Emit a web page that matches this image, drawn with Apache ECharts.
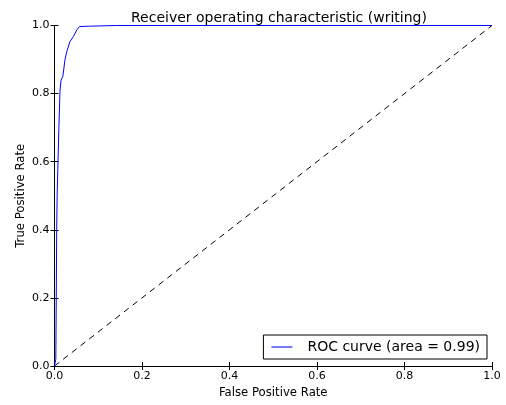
<!DOCTYPE html>
<html>
<head>
<meta charset="utf-8">
<script src="https://cdn.jsdelivr.net/npm/echarts@6/dist/echarts.min.js"></script>
<style>
  html, body { margin: 0; padding: 0; background: #fff; }
  #chart { width: 506px; height: 405px; }
</style>
</head>
<body>
<div id="chart"></div>
<script>
// ROC curve points (false positive rate, true positive rate)
const fpr = [0, 0.003, 0.004, 0.005, 0.006, 0.008, 0.010, 0.0126, 0.015, 0.019, 0.024, 0.028, 0.035, 0.043, 0.051, 0.057, 0.080, 0.142, 1.0];
const tpr = [0, 0.020, 0.200, 0.400, 0.500, 0.600, 0.700, 0.810, 0.840, 0.850, 0.900, 0.923, 0.952, 0.967, 0.987, 0.997, 0.998, 1.000, 1.0];
// chance diagonal
const chanceX = [0, 1];
const chanceY = [0, 1];
const tickLabels = ['0.0', '0.2', '0.4', '0.6', '0.8', '1.0'];
const rocName = 'ROC curve (area = 0.99)';

const FONT = 'DejaVu Sans';
const fmt = v => tickLabels[Math.round(v / 0.2)] || '';

const rocData = fpr.map((x, i) => [x, tpr[i]]);
const chanceData = chanceX.map((x, i) => [x, chanceY[i]]);

const tickStyle = { show: true, inside: true, length: 4, lineStyle: { color: '#000', width: 1 } };

function valueAxis(position, showLabel, name) {
  return {
    type: 'value', position: position, min: 0, max: 1, interval: 0.2,
    name: name || '', nameLocation: 'middle',
    nameGap: position === 'left' ? 27.5 : 21,
    nameMoveOverlap: false,
    nameTextStyle: { fontFamily: FONT, fontSize: 11.7, color: '#000' },
    axisLine: { show: true, lineStyle: { color: '#000', width: 1 } },
    axisTick: tickStyle,
    axisLabel: { show: showLabel, formatter: fmt, fontFamily: FONT, fontSize: 11, color: '#000', margin: 5 },
    splitLine: { show: false }
  };
}

const chart = echarts.init(document.getElementById('chart'), null, { renderer: 'canvas' });
chart.setOption({
  animation: false,
  backgroundColor: '#fff',
  // title centred over the plot area
  title: {
    text: 'Receiver operating characteristic (writing)',
    left: 126, top: 6,
    textStyle: { fontFamily: FONT, fontSize: 14, fontWeight: 'normal', color: '#000' }
  },
  grid: { left: 54.5, right: 14, top: 25.5, bottom: 39, containLabel: false },
  xAxis: [
    valueAxis('bottom', true, 'False Positive Rate'),
    valueAxis('top', false)
  ],
  yAxis: [
    valueAxis('left', true, 'True Positive Rate'),
    valueAxis('right', false)
  ],
  legend: {
    data: [{ name: rocName, itemStyle: { color: '#4d4dff', borderWidth: 0 } }],
    right: 19, bottom: 46,
    orient: 'vertical',
    padding: [5, 7, 5, 8],
    borderColor: '#000', borderWidth: 1, borderRadius: 0,
    backgroundColor: '#fff',
    itemWidth: 21, itemHeight: 1.5,
    icon: 'rect',
    textStyle: { fontFamily: FONT, fontSize: 14, color: '#000', padding: [0, 0, 0, 10] }
  },
  series: [
    {
      name: rocName, type: 'line', data: rocData,
      showSymbol: false, symbol: 'none',
      color: '#0000ff',
      lineStyle: { color: '#0000ff', width: 1 },
      z: 3
    },
    {
      name: 'chance', type: 'line', data: chanceData,
      showSymbol: false, symbol: 'none',
      lineStyle: { color: '#000', width: 1, type: [6, 5] },
      z: 2
    }
  ]
});
</script>
</body>
</html>
